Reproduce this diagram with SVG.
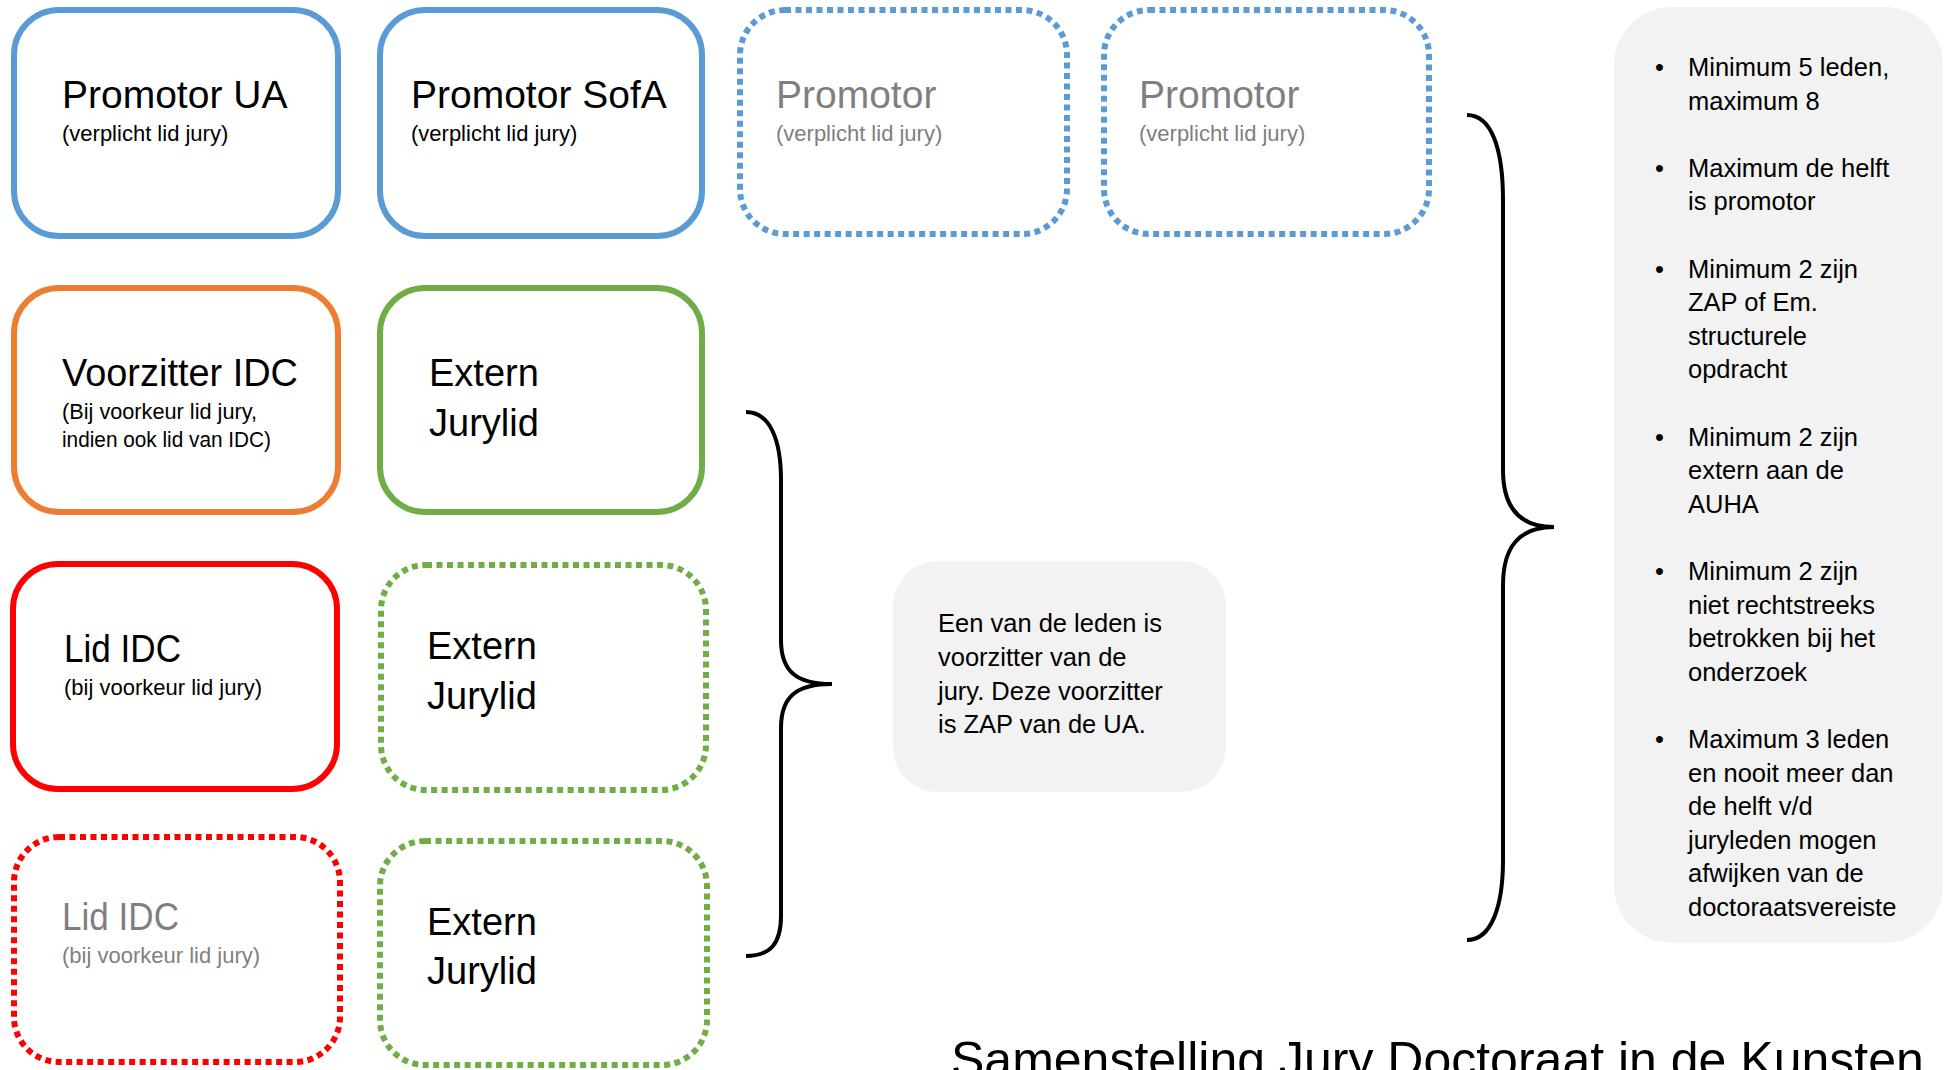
<svg xmlns="http://www.w3.org/2000/svg" width="1959" height="1070" viewBox="0 0 1959 1070">
<style>
text{font-family:"Liberation Sans",Arial,sans-serif;fill:#000}
.box{fill:#fff;stroke-width:6}
.dash{stroke-dasharray:6 4.5}
.blue{stroke:#5b9bd5}
.orange{stroke:#ed7d31}
.green{stroke:#70ad47}
.red{stroke:#ff0000}
.t{font-size:39px}
.ex{font-size:38px}
.s{font-size:22px}
.g{fill:#7f7f7f}
.note{fill:#f2f2f2}
.b{font-size:25.5px}
.brace{fill:none;stroke:#000;stroke-width:4}
</style>
<rect width="1959" height="1070" fill="#fff"/>
<g id="promotor-ua">
<rect class="box blue" x="14" y="10" width="324" height="226" rx="45"/>
<text class="t" x="62" y="108">Promotor UA</text>
<text class="s" x="62" y="141">(verplicht lid jury)</text>
</g>
<g id="promotor-sofa">
<rect class="box blue" x="380" y="10" width="322" height="226" rx="45"/>
<text class="t" x="411" y="108">Promotor SofA</text>
<text class="s" x="411" y="141">(verplicht lid jury)</text>
</g>
<g id="promotor-opt-1">
<rect class="box blue dash" x="740" y="10" width="327" height="224" rx="45"/>
<text class="t g" x="776" y="108">Promotor</text>
<text class="s g" x="776" y="141">(verplicht lid jury)</text>
</g>
<g id="promotor-opt-2">
<rect class="box blue dash" x="1104" y="10" width="325" height="224" rx="45"/>
<text class="t g" x="1139" y="108">Promotor</text>
<text class="s g" x="1139" y="141">(verplicht lid jury)</text>
</g>
<g id="voorzitter-idc">
<rect class="box orange" x="14" y="288" width="324" height="224" rx="45"/>
<text class="t" x="62" y="386" textLength="236" lengthAdjust="spacingAndGlyphs">Voorzitter IDC</text>
<text class="s" x="62" y="419" textLength="195" lengthAdjust="spacingAndGlyphs">(Bij voorkeur lid jury,</text>
<text class="s" x="62" y="447" textLength="209" lengthAdjust="spacingAndGlyphs">indien ook lid van IDC)</text>
</g>
<g id="extern-jurylid-1">
<rect class="box green" x="380" y="288" width="322" height="224" rx="45"/>
<text class="ex" x="429" y="386">Extern</text>
<text class="ex" x="429" y="436">Jurylid</text>
</g>
<g id="lid-idc">
<rect class="box red" x="13" y="564" width="324" height="225" rx="45"/>
<text class="t" x="64" y="662" textLength="117" lengthAdjust="spacingAndGlyphs">Lid IDC</text>
<text class="s" x="64" y="695">(bij voorkeur lid jury)</text>
</g>
<g id="extern-jurylid-2">
<rect class="box green dash" x="381" y="565" width="325" height="225" rx="45"/>
<text class="ex" x="427" y="659">Extern</text>
<text class="ex" x="427" y="709">Jurylid</text>
</g>
<g id="lid-idc-opt">
<rect class="box red dash" x="14" y="837" width="326" height="225" rx="45"/>
<text class="t g" x="62" y="930" textLength="117" lengthAdjust="spacingAndGlyphs">Lid IDC</text>
<text class="s g" x="62" y="963">(bij voorkeur lid jury)</text>
</g>
<g id="extern-jurylid-3">
<rect class="box green dash" x="380" y="841" width="327" height="224" rx="45"/>
<text class="ex" x="427" y="935">Extern</text>
<text class="ex" x="427" y="984">Jurylid</text>
</g>
<g id="connectors">
<path class="brace" d="M746,412 C770,412 781,440 781,480 L781,640 C781,672 797,684 832,684 C797,684 781,696 781,728 L781,916 C781,944 770,956 746,956"/>
<path class="brace" d="M1467,115 C1492,115 1503,150 1503,200 L1503,470 C1503,506 1518,527 1554,527 C1518,527 1503,548 1503,585 L1503,860 C1503,905 1492,940 1467,940"/>
</g>
<g id="voorzitter-note">
<rect class="note" x="893" y="561" width="333" height="231" rx="45"/>
<text class="b" x="938" y="632">Een van de leden is</text>
<text class="b" x="938" y="666">voorzitter van de</text>
<text class="b" x="938" y="700">jury. Deze voorzitter</text>
<text class="b" x="938" y="733">is ZAP van de UA.</text>
</g>
<g id="rules">
<rect class="note" x="1614" y="7" width="329" height="936" rx="58"/>
<g class="b">
<text class="b" x="1655" y="76">•</text><text class="b" x="1688" y="76">Minimum 5 leden,</text>
<text class="b" x="1688" y="109.6">maximum 8</text>
<text class="b" x="1655" y="176.8">•</text><text class="b" x="1688" y="176.8">Maximum de helft</text>
<text class="b" x="1688" y="210.4">is promotor</text>
<text class="b" x="1655" y="277.6">•</text><text class="b" x="1688" y="277.6">Minimum 2 zijn</text>
<text class="b" x="1688" y="311.2">ZAP of Em.</text>
<text class="b" x="1688" y="344.8">structurele</text>
<text class="b" x="1688" y="378.4">opdracht</text>
<text class="b" x="1655" y="445.6">•</text><text class="b" x="1688" y="445.6">Minimum 2 zijn</text>
<text class="b" x="1688" y="479.2">extern aan de</text>
<text class="b" x="1688" y="512.8">AUHA</text>
<text class="b" x="1655" y="580">•</text><text class="b" x="1688" y="580">Minimum 2 zijn</text>
<text class="b" x="1688" y="613.6">niet rechtstreeks</text>
<text class="b" x="1688" y="647.2">betrokken bij het</text>
<text class="b" x="1688" y="680.8">onderzoek</text>
<text class="b" x="1655" y="748">•</text><text class="b" x="1688" y="748">Maximum 3 leden</text>
<text class="b" x="1688" y="781.6">en nooit meer dan</text>
<text class="b" x="1688" y="815.2">de helft v/d</text>
<text class="b" x="1688" y="848.8">juryleden mogen</text>
<text class="b" x="1688" y="882.4">afwijken van de</text>
<text class="b" x="1688" y="916">doctoraatsvereiste</text>
</g>
</g>
<g id="title">
<text x="951" y="1077" font-size="50">Samenstelling Jury Doctoraat in de Kunsten</text>
</g>
</svg>
